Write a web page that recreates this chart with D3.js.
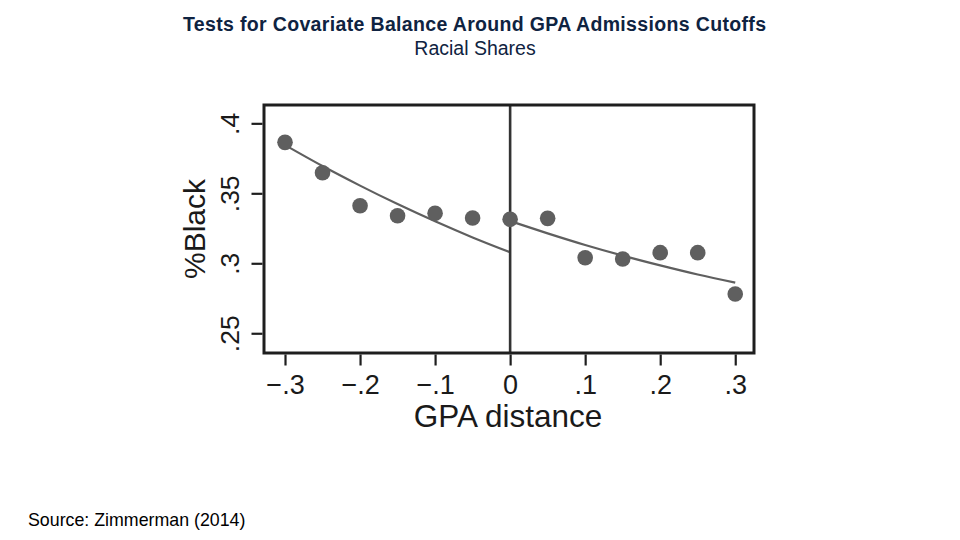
<!DOCTYPE html>
<html>
<head>
<meta charset="utf-8">
<script src="https://cdn.jsdelivr.net/npm/d3@7/dist/d3.min.js"></script>
<style>
  html, body { margin: 0; padding: 0; background: #fff; }
  svg { display: block; }
</style>
</head>
<body>
<svg id="chart" width="960" height="540"></svg>
<script>
// ---- Data ----
const binX      = [-0.30, -0.25, -0.20, -0.15, -0.10, -0.05, 0.00, 0.05, 0.10, 0.15, 0.20, 0.25, 0.30];
const binBlack  = [0.3864, 0.3647, 0.3411, 0.3340, 0.3357, 0.3324, 0.3314, 0.3321, 0.3040, 0.3031, 0.3076, 0.3076, 0.2781];
const fitLeftX  = [-0.30, -0.25, -0.20, -0.15, -0.10, -0.05, 0.00];
const fitLeftY  = [0.3845, 0.3695, 0.3555, 0.3423, 0.3300, 0.3185, 0.3079];
const fitRightX = [0.00, 0.05, 0.10, 0.15, 0.20, 0.25, 0.30];
const fitRightY = [0.3302, 0.3214, 0.3131, 0.3055, 0.2985, 0.2920, 0.2862];
const xTicks = [-0.3, -0.2, -0.1, 0, 0.1, 0.2, 0.3];
const xTickLabels = ["\u2212.3", "\u2212.2", "\u2212.1", "0", ".1", ".2", ".3"];
const yTicks = [0.25, 0.30, 0.35, 0.40];
const yTickLabels = [".25", ".3", ".35", ".4"];
const cutoff = 0;

const titleText = "Tests for Covariate Balance Around GPA Admissions Cutoffs";
const subtitleText = "Racial Shares";
const xLabel = "GPA distance";
const yLabel = "%Black";
const sourceText = "Source: Zimmerman (2014)";

// ---- Layout ----
const svg = d3.select("#chart");
const plot = { left: 264, top: 105, right: 754, bottom: 353 };

const x = d3.scaleLinear()
  .domain([-0.328, 0.325])
  .range([plot.left, plot.right]);
const y = d3.scaleLinear()
  .domain([0.2359, 0.4131])
  .range([plot.bottom, plot.top]);

const font = "'Liberation Sans', Arial, Helvetica, sans-serif";
const grey = "#5f5f5f";
const dark = "#1e1e1e";
const navy = "#0f2341";

// Titles
svg.append("text")
  .attr("x", 474.5).attr("y", 31)
  .attr("text-anchor", "middle")
  .attr("font-family", font).attr("font-weight", "bold").attr("font-size", 19.5)
  .attr("textLength", 583).attr("lengthAdjust", "spacing")
  .attr("fill", navy)
  .text(titleText);
svg.append("text")
  .attr("x", 475).attr("y", 55)
  .attr("text-anchor", "middle")
  .attr("font-family", font).attr("font-size", 19.5)
  .attr("fill", navy)
  .text(subtitleText);

// Source
svg.append("text")
  .attr("x", 28).attr("y", 526)
  .attr("font-family", font).attr("font-size", 17.8)
  .attr("fill", "#000")
  .text(sourceText);

// Plot background
svg.append("rect")
  .attr("x", plot.left).attr("y", plot.top)
  .attr("width", plot.right - plot.left).attr("height", plot.bottom - plot.top)
  .attr("fill", "#fff");

// Fit lines
const line = d3.line()
  .x(d => x(d[0])).y(d => y(d[1]))
  .curve(d3.curveMonotoneX);
svg.append("path")
  .datum(fitLeftX.map((v, i) => [v, fitLeftY[i]]))
  .attr("d", line)
  .attr("fill", "none").attr("stroke", grey).attr("stroke-width", 2.2);
svg.append("path")
  .datum(fitRightX.map((v, i) => [v, fitRightY[i]]))
  .attr("d", line)
  .attr("fill", "none").attr("stroke", grey).attr("stroke-width", 2.2);

// Cutoff line
svg.append("line")
  .attr("x1", x(cutoff)).attr("x2", x(cutoff))
  .attr("y1", plot.top).attr("y2", plot.bottom)
  .attr("stroke", "#333").attr("stroke-width", 2.6);

// Points
svg.append("g").selectAll("circle")
  .data(binX.map((v, i) => [v, binBlack[i]]))
  .join("circle")
  .attr("cx", d => x(d[0])).attr("cy", d => y(d[1]))
  .attr("r", 7.8)
  .attr("fill", grey);

// Frame
svg.append("rect")
  .attr("x", plot.left).attr("y", plot.top)
  .attr("width", plot.right - plot.left).attr("height", plot.bottom - plot.top)
  .attr("fill", "none").attr("stroke", dark).attr("stroke-width", 3);

// X axis
const xAxis = d3.axisBottom(x)
  .tickValues(xTicks)
  .tickSize(11)
  .tickFormat((d, i) => xTickLabels[i]);
const gx = svg.append("g")
  .attr("transform", `translate(0,${plot.bottom + 1.5})`)
  .call(xAxis);
gx.select(".domain").remove();
gx.selectAll(".tick line").attr("stroke", dark).attr("stroke-width", 2.2);
gx.selectAll(".tick text")
  .attr("font-family", font).attr("font-size", 27).attr("fill", "#1a1a1a")
  .attr("dy", null)
  .attr("y", 394 - (plot.bottom + 1.5));

// Y axis
const yAxis = d3.axisLeft(y)
  .tickValues(yTicks)
  .tickSize(11)
  .tickFormat((d, i) => yTickLabels[i]);
const gy = svg.append("g")
  .attr("transform", `translate(${plot.left - 1.5},0)`)
  .call(yAxis);
gy.select(".domain").remove();
gy.selectAll(".tick line").attr("stroke", dark).attr("stroke-width", 2.2);
gy.selectAll(".tick text")
  .attr("font-family", font).attr("font-size", 26.5).attr("fill", "#1a1a1a")
  .attr("x", null).attr("dy", null)
  .attr("text-anchor", "middle")
  .attr("transform", "translate(-23.5,0) rotate(-90)");

// Axis titles
svg.append("text")
  .attr("x", 508).attr("y", 427)
  .attr("text-anchor", "middle")
  .attr("font-family", font).attr("font-size", 31.5).attr("fill", "#1a1a1a")
  .text(xLabel);
svg.append("text")
  .attr("transform", `translate(205,${(plot.top + plot.bottom) / 2}) rotate(-90)`)
  .attr("text-anchor", "middle")
  .attr("font-family", font).attr("font-size", 30).attr("fill", "#1a1a1a")
  .text(yLabel);
</script>
</body>
</html>
